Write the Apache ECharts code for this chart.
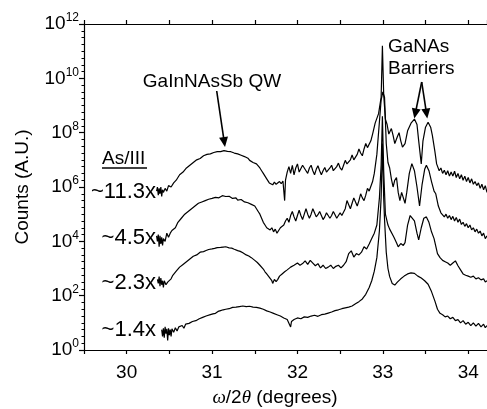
<!DOCTYPE html>
<html>
<head>
<meta charset="utf-8">
<script src="https://cdn.jsdelivr.net/npm/echarts@6/dist/echarts.min.js"></script>
<style>
  html, body { margin: 0; padding: 0; background: #fff; }
  #chart { width: 487px; height: 409px; background: #fff; }
</style>
</head>
<body>
<div id="chart"></div>
<script>
// x = omega/2theta (deg), y = log10(counts)
const xTicks = [30, 31, 32, 33, 34]
const yDecades = [0, 2, 4, 6, 8, 10, 12]

const scan113 = [
  [30.35, 5.85], [30.36, 6.0], [30.37, 5.7], [30.38, 5.95], [30.39, 5.75], [30.40, 6.0], [30.41, 5.65], [30.42, 5.9],
  [30.43, 5.8], [30.45, 5.95], [30.47, 5.85], [30.49, 6.05], [30.52, 6.0], [30.55, 6.15], [30.58, 6.25], [30.60, 6.2],
  [30.62, 6.45], [30.64, 6.4], [30.66, 6.55], [30.68, 6.5], [30.70, 6.7], [30.72, 6.65], [30.74, 6.8], [30.76, 6.78],
  [30.78, 6.9], [30.80, 6.88], [30.82, 7.0], [30.84, 6.96], [30.86, 7.05], [30.88, 7.05], [30.90, 7.15], [30.92, 7.1],
  [30.94, 7.2], [30.96, 7.16], [30.98, 7.22], [31.00, 7.2], [31.02, 7.27], [31.04, 7.24], [31.06, 7.3], [31.08, 7.26],
  [31.10, 7.3], [31.12, 7.27], [31.14, 7.34], [31.16, 7.29], [31.18, 7.31], [31.20, 7.28], [31.22, 7.3], [31.24, 7.24],
  [31.26, 7.25], [31.28, 7.2], [31.30, 7.22], [31.32, 7.15], [31.34, 7.17], [31.36, 7.1], [31.38, 7.12], [31.40, 7.05],
  [31.42, 7.06], [31.44, 6.98], [31.46, 6.98], [31.48, 6.9], [31.50, 6.92], [31.52, 6.85], [31.54, 6.8], [31.56, 6.7],
  [31.58, 6.6], [31.60, 6.5], [31.62, 6.45], [31.64, 6.3], [31.65, 6.25], [31.67, 6.15], [31.69, 6.2], [31.71, 6.08],
  [31.73, 6.18], [31.75, 6.1], [31.77, 6.05], [31.79, 6.2], [31.81, 6.12], [31.83, 6.22], [31.85, 5.5], [31.86, 6.25],
  [31.88, 6.55], [31.90, 6.75], [31.92, 6.5], [31.94, 6.8], [31.96, 6.45], [31.98, 6.7], [32.00, 6.85], [32.02, 6.55],
  [32.04, 6.5], [32.06, 6.8], [32.08, 6.85], [32.10, 6.6], [32.12, 6.5], [32.14, 6.7], [32.16, 6.8], [32.18, 6.6],
  [32.20, 6.45], [32.22, 6.65], [32.24, 6.78], [32.26, 6.6], [32.28, 6.45], [32.30, 6.6], [32.32, 6.72], [32.34, 6.55],
  [32.36, 6.5], [32.38, 6.7], [32.40, 6.8], [32.42, 6.6], [32.44, 6.55], [32.46, 6.75], [32.48, 6.88], [32.50, 6.7],
  [32.52, 6.62], [32.54, 6.8], [32.56, 6.98], [32.58, 6.85], [32.60, 6.78], [32.62, 7.0], [32.64, 7.18], [32.66, 7.0],
  [32.68, 6.95], [32.70, 7.2], [32.72, 7.4], [32.74, 7.25], [32.76, 7.15], [32.78, 7.4], [32.80, 7.6], [32.82, 7.45],
  [32.84, 7.4], [32.86, 7.7], [32.88, 7.95], [32.91, 8.35], [32.95, 8.7], [32.98, 9.3], [32.995, 11.2], [33.01, 9.4],
  [33.03, 8.5], [33.05, 8.3], [33.07, 7.95], [33.10, 8.15], [33.12, 7.9], [33.14, 7.6], [33.17, 7.85], [33.19, 8.0],
  [33.21, 7.7], [33.23, 7.47], [33.26, 7.6], [33.29, 8.07], [33.33, 8.35], [33.37, 8.5], [33.40, 8.3], [33.42, 7.7],
  [33.45, 6.85], [33.47, 7.7], [33.50, 8.2], [33.53, 8.38], [33.56, 8.2], [33.58, 7.9], [33.61, 7.3], [33.63, 6.85],
  [33.66, 6.6], [33.68, 6.7], [33.70, 6.5], [33.72, 6.62], [33.74, 6.45], [33.76, 6.6], [33.78, 6.4], [33.80, 6.55],
  [33.82, 6.4], [33.84, 6.58], [33.86, 6.35], [33.88, 6.5], [33.90, 6.3], [33.92, 6.45], [33.94, 6.25], [33.96, 6.4],
  [33.98, 6.2], [34.00, 6.35], [34.02, 6.15], [34.04, 6.3], [34.06, 6.1], [34.08, 6.2], [34.10, 6.05], [34.12, 6.15],
  [34.14, 5.95], [34.16, 6.1], [34.18, 5.9], [34.20, 6.05], [34.22, 5.8]
]

const scan45 = [
  [30.35, 4.2], [30.36, 4.0], [30.37, 4.25], [30.38, 3.8], [30.39, 4.2], [30.40, 3.9], [30.41, 4.15], [30.42, 3.85],
  [30.43, 4.1], [30.45, 4.0], [30.47, 4.3], [30.49, 4.15], [30.51, 4.3], [30.53, 4.4], [30.55, 4.35], [30.57, 4.5],
  [30.60, 4.7], [30.62, 4.65], [30.64, 4.85], [30.66, 4.8], [30.68, 5.0], [30.70, 4.98], [30.72, 5.1], [30.74, 5.08],
  [30.76, 5.2], [30.78, 5.18], [30.80, 5.3], [30.82, 5.28], [30.84, 5.4], [30.86, 5.38], [30.88, 5.45], [30.90, 5.42],
  [30.92, 5.5], [30.94, 5.48], [30.96, 5.55], [30.98, 5.52], [31.00, 5.58], [31.02, 5.55], [31.04, 5.62], [31.06, 5.58],
  [31.08, 5.6], [31.10, 5.64], [31.12, 5.68], [31.14, 5.62], [31.16, 5.65], [31.18, 5.6], [31.20, 5.66], [31.22, 5.6],
  [31.24, 5.58], [31.26, 5.62], [31.28, 5.6], [31.30, 5.52], [31.32, 5.5], [31.34, 5.54], [31.36, 5.52], [31.38, 5.45],
  [31.40, 5.45], [31.42, 5.42], [31.44, 5.4], [31.46, 5.36], [31.48, 5.35], [31.50, 5.3], [31.52, 5.2], [31.54, 5.1],
  [31.56, 5.0], [31.58, 4.85], [31.60, 4.7], [31.62, 4.6], [31.64, 4.5], [31.66, 4.55], [31.68, 4.42], [31.70, 4.5],
  [31.72, 4.35], [31.74, 4.45], [31.76, 4.3], [31.78, 4.4], [31.80, 4.5], [31.82, 4.45], [31.84, 4.6], [31.86, 4.75],
  [31.88, 4.85], [31.90, 4.7], [31.92, 4.95], [31.94, 5.1], [31.96, 4.9], [31.98, 4.75], [32.00, 4.95], [32.02, 5.15],
  [32.04, 4.95], [32.06, 4.8], [32.08, 5.0], [32.10, 5.2], [32.12, 5.0], [32.14, 4.85], [32.16, 5.0], [32.18, 5.2],
  [32.20, 5.05], [32.22, 4.9], [32.24, 4.98], [32.26, 5.1], [32.28, 4.95], [32.30, 4.8], [32.32, 4.9], [32.34, 5.05],
  [32.36, 4.95], [32.38, 4.85], [32.40, 4.95], [32.42, 5.1], [32.44, 4.98], [32.46, 4.85], [32.48, 4.95], [32.50, 5.05],
  [32.52, 4.95], [32.54, 4.9], [32.56, 5.2], [32.58, 5.5], [32.60, 5.35], [32.62, 5.2], [32.64, 5.4], [32.66, 5.6],
  [32.68, 5.45], [32.70, 5.3], [32.72, 5.5], [32.74, 5.75], [32.76, 5.6], [32.78, 5.5], [32.80, 5.7], [32.82, 5.95],
  [32.84, 5.85], [32.86, 5.8], [32.88, 6.2], [32.90, 6.5], [32.93, 7.2], [32.96, 8.4], [32.98, 9.2], [33.00, 9.5],
  [33.02, 9.3], [33.04, 7.6], [33.06, 6.9], [33.08, 6.7], [33.10, 6.3], [33.12, 6.0], [33.14, 6.25], [33.16, 6.35],
  [33.18, 5.8], [33.20, 5.5], [33.22, 5.8], [33.24, 5.75], [33.26, 5.4], [33.28, 5.8], [33.31, 6.5], [33.34, 6.86],
  [33.37, 6.6], [33.40, 6.0], [33.43, 5.3], [33.46, 6.1], [33.49, 6.65], [33.51, 6.8], [33.54, 6.6], [33.57, 6.2],
  [33.60, 5.85], [33.62, 5.75], [33.65, 5.3], [33.68, 5.05], [33.70, 5.1], [33.72, 4.9], [33.74, 5.0], [33.76, 4.85],
  [33.78, 4.95], [33.80, 4.8], [33.82, 4.92], [33.84, 4.75], [33.86, 4.88], [33.88, 4.7], [33.90, 4.82], [33.92, 4.62],
  [33.94, 4.7], [33.96, 4.55], [33.98, 4.65], [34.00, 4.5], [34.02, 4.6], [34.04, 4.42], [34.06, 4.5], [34.08, 4.35],
  [34.10, 4.45], [34.12, 4.3], [34.14, 4.38], [34.16, 4.2], [34.18, 4.3], [34.20, 4.1], [34.22, 4.2]
]

const scan23 = [
  [30.36, 2.6], [30.37, 2.45], [30.38, 2.7], [30.39, 2.35], [30.40, 2.65], [30.41, 2.4], [30.42, 2.55], [30.43, 2.3],
  [30.44, 2.55], [30.46, 2.4], [30.48, 2.5], [30.50, 2.45], [30.52, 2.62], [30.54, 2.75], [30.56, 2.72], [30.58, 2.9],
  [30.60, 2.88], [30.62, 3.05], [30.64, 3.02], [30.66, 3.15], [30.68, 3.12], [30.70, 3.25], [30.72, 3.22], [30.74, 3.35],
  [30.76, 3.33], [30.78, 3.45], [30.80, 3.42], [30.82, 3.5], [30.84, 3.52], [30.86, 3.6], [30.88, 3.58], [30.90, 3.62],
  [30.93, 3.66], [30.96, 3.7], [31.00, 3.72], [31.03, 3.74], [31.06, 3.77], [31.10, 3.78], [31.13, 3.79], [31.16, 3.8],
  [31.20, 3.76], [31.23, 3.75], [31.26, 3.71], [31.30, 3.66], [31.33, 3.63], [31.36, 3.58], [31.40, 3.5], [31.43, 3.46],
  [31.46, 3.4], [31.50, 3.3], [31.53, 3.22], [31.56, 3.12], [31.60, 2.98], [31.62, 2.88], [31.64, 2.8], [31.66, 2.72],
  [31.68, 2.65], [31.70, 2.55], [31.71, 2.45], [31.73, 2.6], [31.75, 2.52], [31.77, 2.6], [31.79, 2.72], [31.82, 2.8],
  [31.85, 2.88], [31.88, 2.95], [31.92, 3.05], [31.96, 3.12], [32.00, 3.2], [32.03, 3.12], [32.06, 3.18], [32.09, 3.28],
  [32.12, 3.15], [32.15, 3.3], [32.18, 3.2], [32.21, 3.1], [32.24, 3.18], [32.27, 3.02], [32.30, 3.12], [32.33, 3.0],
  [32.36, 3.05], [32.39, 3.12], [32.42, 3.0], [32.45, 3.08], [32.48, 3.12], [32.51, 3.02], [32.54, 3.12], [32.57, 3.25],
  [32.60, 3.55], [32.63, 3.65], [32.66, 3.42], [32.69, 3.55], [32.72, 3.5], [32.75, 3.6], [32.78, 3.8], [32.81, 3.72],
  [32.84, 3.9], [32.87, 4.1], [32.90, 4.3], [32.93, 4.6], [32.96, 5.6], [32.98, 6.8], [32.995, 8.6], [33.01, 6.6],
  [33.03, 5.0], [33.06, 4.6], [33.08, 4.45], [33.10, 4.4], [33.13, 4.15], [33.16, 3.95], [33.18, 3.8], [33.21, 3.92],
  [33.24, 3.85], [33.26, 3.95], [33.29, 4.6], [33.32, 4.95], [33.34, 5.0], [33.37, 4.75], [33.40, 4.3], [33.42, 4.05],
  [33.45, 4.5], [33.48, 4.85], [33.51, 4.9], [33.54, 4.7], [33.57, 4.35], [33.60, 4.1], [33.64, 3.55], [33.67, 3.4],
  [33.70, 3.3], [33.73, 3.25], [33.76, 3.2], [33.79, 3.12], [33.82, 3.2], [33.85, 3.28], [33.88, 3.1], [33.91, 2.95],
  [33.94, 2.8], [33.97, 2.75], [34.00, 2.72], [34.03, 2.68], [34.06, 2.72], [34.09, 2.62], [34.12, 2.66], [34.15, 2.58],
  [34.18, 2.62], [34.20, 2.5], [34.22, 2.55]
]

const scan14 = [
  [30.41, 0.75], [30.42, 0.5], [30.43, 0.8], [30.44, 0.45], [30.45, 0.85], [30.46, 0.6], [30.47, 0.78], [30.48, 0.35],
  [30.49, 0.8], [30.50, 0.55], [30.51, 0.75], [30.52, 0.5], [30.53, 0.78], [30.55, 0.65], [30.57, 0.82], [30.59, 0.7],
  [30.61, 0.85], [30.63, 0.82], [30.65, 0.9], [30.67, 0.8], [30.69, 0.95], [30.71, 0.88], [30.73, 0.98], [30.75, 0.95],
  [30.77, 1.05], [30.79, 1.0], [30.81, 1.08], [30.83, 1.05], [30.85, 1.15], [30.87, 1.1], [30.89, 1.2], [30.91, 1.18],
  [30.93, 1.25], [30.95, 1.22], [30.98, 1.3], [31.01, 1.33], [31.04, 1.35], [31.07, 1.42], [31.10, 1.45], [31.13, 1.48],
  [31.16, 1.5], [31.20, 1.52], [31.24, 1.57], [31.28, 1.58], [31.32, 1.6], [31.36, 1.62], [31.40, 1.6], [31.44, 1.61],
  [31.48, 1.58], [31.52, 1.57], [31.56, 1.54], [31.60, 1.5], [31.64, 1.44], [31.68, 1.4], [31.72, 1.35], [31.76, 1.3],
  [31.80, 1.25], [31.84, 1.18], [31.88, 1.12], [31.90, 1.1], [31.92, 0.85], [31.93, 1.05], [31.96, 1.12], [32.00, 1.18],
  [32.04, 1.15], [32.08, 1.22], [32.12, 1.2], [32.16, 1.25], [32.20, 1.28], [32.24, 1.24], [32.28, 1.3], [32.32, 1.32],
  [32.36, 1.36], [32.40, 1.4], [32.44, 1.45], [32.48, 1.48], [32.52, 1.52], [32.56, 1.55], [32.60, 1.58], [32.64, 1.62],
  [32.68, 1.7], [32.72, 1.78], [32.76, 1.88], [32.80, 2.05], [32.84, 2.3], [32.87, 2.55], [32.90, 2.9], [32.93, 3.4],
  [32.96, 4.4], [32.98, 5.6], [32.995, 7.6], [33.01, 5.6], [33.02, 4.8], [33.04, 3.6], [33.06, 3.0], [33.08, 2.7],
  [33.11, 2.45], [33.14, 2.39], [33.17, 2.5], [33.21, 2.62], [33.25, 2.72], [33.29, 2.8], [33.33, 2.84], [33.37, 2.82],
  [33.41, 2.72], [33.45, 2.65], [33.49, 2.55], [33.53, 2.42], [33.57, 2.15], [33.61, 1.8], [33.64, 1.5], [33.67, 1.35],
  [33.70, 1.3], [33.73, 1.22], [33.76, 1.25], [33.79, 1.15], [33.82, 1.2], [33.85, 1.08], [33.88, 1.12], [33.91, 1.0],
  [33.94, 1.08], [33.97, 0.95], [34.00, 1.02], [34.03, 0.9], [34.06, 1.0], [34.09, 0.88], [34.12, 0.98], [34.15, 0.85],
  [34.18, 0.95], [34.20, 0.82], [34.22, 0.9]
]

const FONT = '"Liberation Sans", Arial, Helvetica, sans-serif'

function arrow(x1, y1, x2, y2) {
  const a = Math.atan2(y2 - y1, x2 - x1)
  const c = Math.cos(a)
  const s = Math.sin(a)
  const len = 10
  const w = 4.5
  return [
    {
      type: 'line',
      shape: { x1: x1, y1: y1, x2: x2 - c * len * 0.7, y2: y2 - s * len * 0.7 },
      style: { stroke: '#000', lineWidth: 1.6 }
    },
    {
      type: 'polygon',
      shape: {
        points: [
          [x2, y2],
          [x2 - c * len + s * w, y2 - s * len - c * w],
          [x2 - c * len - s * w, y2 - s * len + c * w]
        ]
      },
      style: { fill: '#000' }
    }
  ]
}

function txt(text, x, y, align, size) {
  return {
    type: 'text',
    x: x,
    y: y,
    style: {
      text: text,
      font: (size || 19) + 'px ' + FONT,
      fill: '#000',
      align: align || 'center',
      verticalAlign: 'middle',
      textAlign: align || 'center',
      textVerticalAlign: 'middle'
    }
  }
}

function frameX(pos, labels) {
  return {
    type: 'value',
    position: pos,
    min: 29.5,
    max: 34.22,
    interval: 0.5,
    axisLine: { show: true, onZero: false, lineStyle: { color: '#000', width: 1.2 } },
    axisTick: { show: true, inside: false, length: 4, lineStyle: { color: '#000', width: 1.2 } },
    axisLabel: labels
      ? {
          margin: 13,
          color: '#000',
          fontSize: 19,
          fontFamily: FONT,
          showMaxLabel: false,
          formatter: function (v) { return xTicks.indexOf(v) >= 0 ? String(v) : '' }
        }
      : { show: false },
    splitLine: { show: false }
  }
}

const chart = echarts.init(document.getElementById('chart'), null, { renderer: 'canvas' })

const seriesList = [scan113, scan45, scan23, scan14].map(function (d) {
  return {
    type: 'line',
    data: d,
    showSymbol: false,
    symbol: 'none',
    animation: false,
    lineStyle: { color: '#000', width: 1.2 }
  }
})

const option = {
  animation: false,
  grid: { left: 84, right: 0, top: 24, bottom: 59, outerBoundsMode: 'none', containLabel: false },
  xAxis: [frameX('bottom', true), frameX('top', false)],
  yAxis: [
    {
      type: 'value',
      min: 0,
      max: 12,
      interval: 2,
      axisLine: { show: true, onZero: false, lineStyle: { color: '#000', width: 1.2 } },
      axisTick: { show: true, length: 5, lineStyle: { color: '#000', width: 1.2 } },
      minorTick: { show: true, splitNumber: 8, length: 2.5, lineStyle: { color: '#000', width: 1 } },
      axisLabel: {
        margin: 5,
        formatter: function (v) { return '{b|10}{s|' + v + '}' },
        rich: {
          b: { fontSize: 19, fontFamily: FONT, color: '#000' },
          s: { fontSize: 12, fontFamily: FONT, color: '#000', padding: [0, 0, 12, 0] }
        }
      },
      splitLine: { show: false },
      name: 'Counts (A.U.)',
      nameLocation: 'middle',
      nameRotate: 90,
      nameGap: 52,
      nameTextStyle: { fontSize: 19, fontFamily: FONT, color: '#000' }
    }
  ],
  graphic: [
    txt('GaInNAsSb QW', 212, 82),
    ...arrow(216.7, 91, 225, 147),
    txt('GaNAs', 388, 47, 'left'),
    txt('Barriers', 388, 69, 'left'),
    ...arrow(421.7, 82, 414.3, 118.5),
    ...arrow(421.7, 82, 427.3, 118.5),
    txt('As/III', 102, 159, 'left'),
    { type: 'line', shape: { x1: 102, y1: 168, x2: 147, y2: 168 }, style: { stroke: '#000', lineWidth: 1.4 } },
    txt('~11.3x', 156, 192, 'right', 22),
    txt('~4.5x', 156, 238, 'right', 22),
    txt('~2.3x', 156, 283, 'right', 22),
    txt('~1.4x', 156, 330, 'right', 22),
    {
      type: 'text',
      x: 275,
      y: 398,
      style: {
        rich: {
          i: { fontStyle: 'italic', fontSize: 19, fontFamily: 'Liberation Serif, Times New Roman, serif' }
        },
        text: '{i|ω}/2{i|θ} (degrees)',
        font: '19px ' + FONT,
        fill: '#000',
        align: 'center',
        verticalAlign: 'middle',
        textAlign: 'center',
        textVerticalAlign: 'middle'
      }
    }
  ],
  series: seriesList
}

chart.setOption(option)
</script>
</body>
</html>
